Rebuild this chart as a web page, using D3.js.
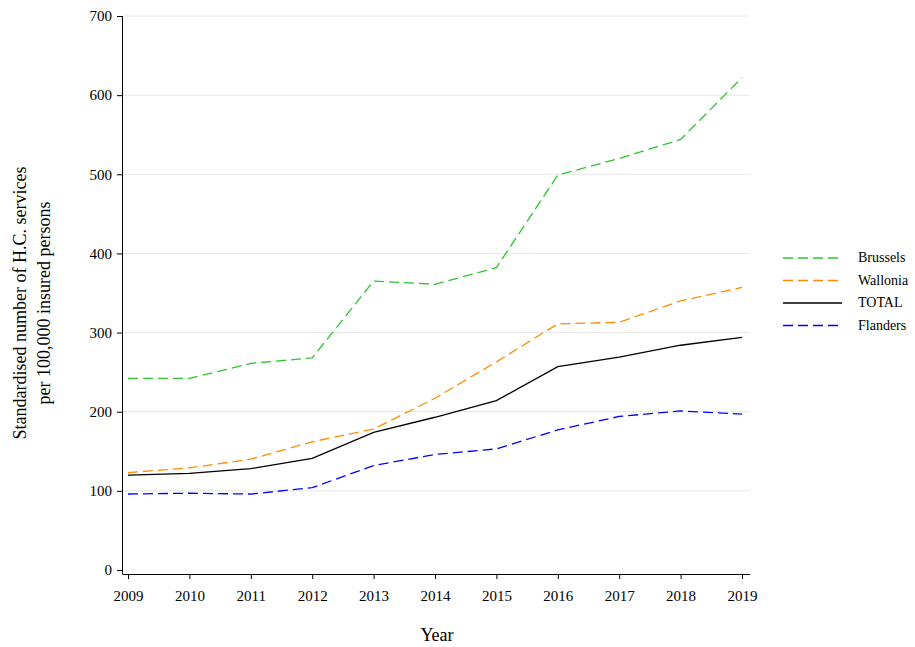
<!DOCTYPE html>
<html><head><meta charset="utf-8">
<script src="https://cdn.jsdelivr.net/npm/d3@7"></script>
<style>body{margin:0;background:#fff}text{font-family:"Liberation Serif","Times New Roman",serif}</style>
</head><body><svg id="c"></svg>
<script>
const years = [2009,2010,2011,2012,2013,2014,2015,2016,2017,2018,2019];
const brussels = [242,242,261,268,365,361,382,499,520,544,622];
const wallonia = [123,129,140,162,178,217,263,311,313,340,357];
const total = [120,122,128,141,174,193,214,257,269,284,294];
const flanders = [96,97,96,104,132,146,153,177,194,201,197];
const yTicks = [0,100,200,300,400,500,600,700];

const series = [
  {name:'Brussels', values:brussels, color:'#2dc52d', dash:'10,5'},
  {name:'Wallonia', values:wallonia, color:'#ff8c00', dash:'10,5'},
  {name:'TOTAL', values:total, color:'#000', dash:null},
  {name:'Flanders', values:flanders, color:'#0000ff', dash:'10,5'}
];

const svg = d3.select('#c').attr('width',915).attr('height',647);
const x = d3.scaleLinear().domain([2009,2019]).range([128,742]);
const y = d3.scaleLinear().domain([0,700]).range([570,16]);

svg.append('g').selectAll('line').data(yTicks.slice(1)).join('line')
  .attr('x1',123).attr('x2',750).attr('y1',d=>y(d)).attr('y2',d=>y(d))
  .attr('stroke','#e6e6e6');

const xAxis = svg.append('g').attr('transform','translate(0,574)')
  .call(d3.axisBottom(x).tickValues(years).tickFormat(d3.format('d')).tickSize(5).tickPadding(11));
xAxis.select('.domain').attr('d','M122.5,0.5H750');
const yAxis = svg.append('g').attr('transform','translate(122,0)')
  .call(d3.axisLeft(y).tickValues(yTicks).tickSize(5).tickPadding(5));
yAxis.select('.domain').attr('d','M0.5,'+y(700)+'V574');
[xAxis,yAxis].forEach(a=>a.attr('font-size',15).attr('font-family','"Liberation Serif",serif'));
svg.selectAll('.tick text').attr('fill','#000');

const line = d3.line().x((d,i)=>x(years[i])).y(d=>y(d));
series.forEach(s=>{
  svg.append('path').datum(s.values).attr('d',line).attr('fill','none')
    .attr('stroke',s.color).attr('stroke-width',1.3).attr('stroke-dasharray',s.dash);
});

const leg = svg.append('g');
series.forEach((s,i)=>{
  const yy = 258 + i*22.5;
  leg.append('line').attr('x1',783).attr('x2',842).attr('y1',yy).attr('y2',yy)
    .attr('stroke',s.color).attr('stroke-width',1.3).attr('stroke-dasharray',s.dash);
  leg.append('text').attr('x',858).attr('y',yy+4).attr('font-size',14).text(s.name);
});

svg.append('text').attr('x',437).attr('y',641).attr('text-anchor','middle').attr('font-size',18).text('Year');
const yl = svg.append('text').attr('transform','translate(26,303) rotate(-90)').attr('text-anchor','middle').attr('font-size',18);
yl.append('tspan').attr('x',0).attr('dy',0).text('Standardised number of H.C. services');
yl.append('tspan').attr('x',0).attr('dy',24).text('per 100,000 insured persons');
</script></body></html>
